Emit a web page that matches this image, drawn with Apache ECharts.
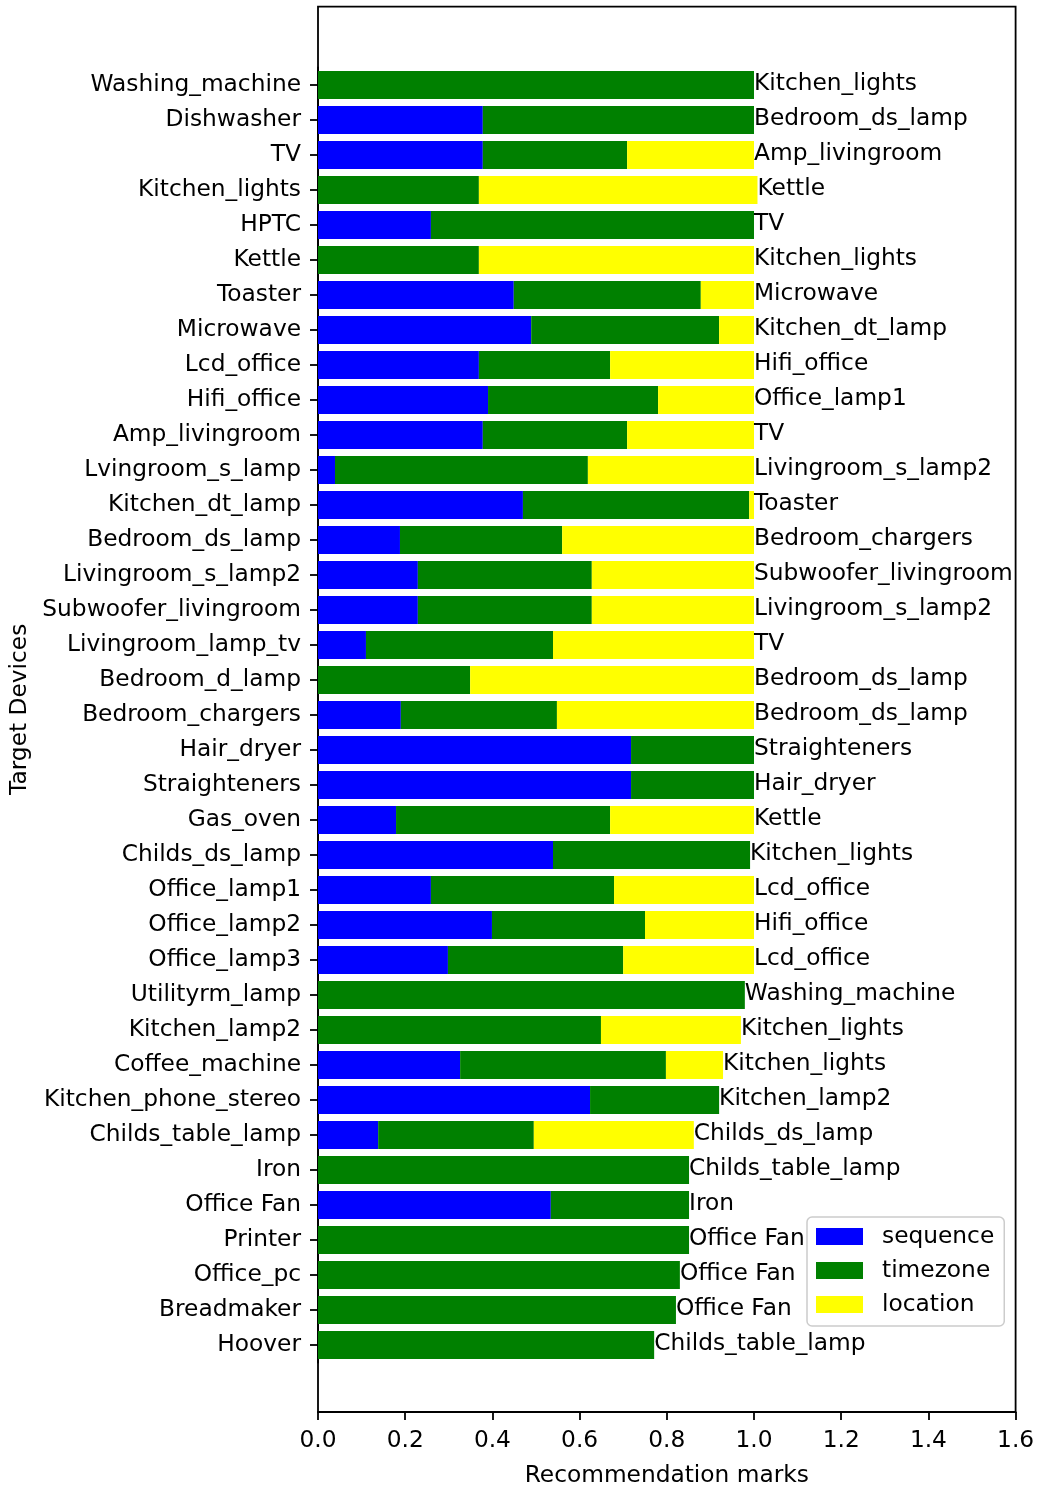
<!DOCTYPE html>
<html>
<head>
<meta charset="utf-8">
<script src="https://cdn.jsdelivr.net/npm/echarts@6/dist/echarts.min.js"></script>
<style>
  html, body { margin: 0; padding: 0; background: #fff; }
  #chart { width: 1038px; height: 1492px; }
</style>
</head>
<body>
<div id="chart"></div>
<script>
// Target devices, listed top to bottom
const devices = [
  'Washing_machine', 'Dishwasher', 'TV', 'Kitchen_lights', 'HPTC', 'Kettle', 'Toaster',
  'Microwave', 'Lcd_office', 'Hifi_office', 'Amp_livingroom', 'Lvingroom_s_lamp',
  'Kitchen_dt_lamp', 'Bedroom_ds_lamp', 'Livingroom_s_lamp2', 'Subwoofer_livingroom',
  'Livingroom_lamp_tv', 'Bedroom_d_lamp', 'Bedroom_chargers', 'Hair_dryer', 'Straighteners',
  'Gas_oven', 'Childs_ds_lamp', 'Office_lamp1', 'Office_lamp2', 'Office_lamp3',
  'Utilityrm_lamp', 'Kitchen_lamp2', 'Coffee_machine', 'Kitchen_phone_stereo',
  'Childs_table_lamp', 'Iron', 'Office Fan', 'Printer', 'Office_pc', 'Breadmaker', 'Hoover'
];

// Recommended device for each target
const recommended = [
  'Kitchen_lights', 'Bedroom_ds_lamp', 'Amp_livingroom', 'Kettle', 'TV', 'Kitchen_lights',
  'Microwave', 'Kitchen_dt_lamp', 'Hifi_office', 'Office_lamp1', 'TV', 'Livingroom_s_lamp2',
  'Toaster', 'Bedroom_chargers', 'Subwoofer_livingroom', 'Livingroom_s_lamp2', 'TV',
  'Bedroom_ds_lamp', 'Bedroom_ds_lamp', 'Straighteners', 'Hair_dryer', 'Kettle',
  'Kitchen_lights', 'Lcd_office', 'Hifi_office', 'Lcd_office', 'Washing_machine',
  'Kitchen_lights', 'Kitchen_lights', 'Kitchen_lamp2', 'Childs_ds_lamp', 'Childs_table_lamp',
  'Iron', 'Office Fan', 'Office Fan', 'Office Fan', 'Childs_table_lamp'
];

// Mark components
const sequenceMarks = [
  0, 0.378, 0.378, 0, 0.259, 0, 0.449,
  0.489, 0.369, 0.390, 0.378, 0.039,
  0.470, 0.188, 0.229, 0.229,
  0.110, 0, 0.190, 0.718, 0.718,
  0.179, 0.539, 0.259, 0.399, 0.298,
  0, 0, 0.326, 0.624,
  0.138, 0, 0.534, 0, 0, 0, 0
];
const timezoneMarks = [
  1.0, 0.622, 0.331, 0.369, 0.741, 0.369, 0.429,
  0.431, 0.301, 0.390, 0.331, 0.580,
  0.519, 0.372, 0.399, 0.399,
  0.429, 0.349, 0.358, 0.282, 0.282,
  0.491, 0.452, 0.420, 0.351, 0.402,
  0.979, 0.649, 0.472, 0.296,
  0.357, 0.851, 0.317, 0.851, 0.830, 0.821, 0.771
];
const locationMarks = [
  0, 0, 0.291, 0.639, 0, 0.631, 0.122,
  0.080, 0.330, 0.220, 0.291, 0.381,
  0.011, 0.440, 0.372, 0.372,
  0.461, 0.651, 0.452, 0, 0,
  0.330, 0, 0.321, 0.250, 0.300,
  0, 0.321, 0.131, 0,
  0.367, 0, 0, 0, 0, 0, 0
];

const xTicks = [0, 0.2, 0.4, 0.6, 0.8, 1.0, 1.2, 1.4, 1.6];

const totals = devices.map((_, i) => sequenceMarks[i] + timezoneMarks[i] + locationMarks[i]);
const endLabels = devices.map((d, i) => ({ value: [totals[i], d], name: recommended[i] }));

const FONT = 'DejaVu Sans';
const FS = 23.3;

const chart = echarts.init(document.getElementById('chart'), null, { renderer: 'canvas' });

const bandPx = 35;
const barsTop = 85 - bandPx / 2;
const plotTop = 6.6;
const plotBottom = 1423.4;

chart.setOption({
  animation: false,
  backgroundColor: '#fff',
  textStyle: { fontFamily: FONT },
  grid: [
    { left: 318, right: 22.4, top: barsTop, height: bandPx * devices.length, containLabel: false },
    { left: 318, right: 22.4, top: plotTop, height: plotBottom - plotTop, containLabel: false,
      show: true, borderColor: '#000', borderWidth: 1.8, backgroundColor: 'transparent' }
  ],
  xAxis: [
    { type: 'value', gridIndex: 0, min: 0, max: 1.6, show: false },
    { type: 'value', gridIndex: 1, min: 0, max: 1.6, interval: 0.2,
      axisLine: { show: true, lineStyle: { color: '#000', width: 1.8 } },
      axisTick: { show: true, length: 8, lineStyle: { color: '#000', width: 1.8 } },
      splitLine: { show: false },
      axisLabel: { color: '#000', fontSize: FS, fontFamily: FONT, margin: 17,
        formatter: v => xTicks.includes(Math.round(v * 10) / 10) ? v.toFixed(1) : '' },
      name: 'Recommendation marks', nameLocation: 'middle', nameGap: 52,
      nameTextStyle: { color: '#000', fontSize: FS, fontFamily: FONT } }
  ],
  yAxis: [
    { type: 'category', gridIndex: 0, data: devices, inverse: true,
      axisLine: { show: true, lineStyle: { color: '#000', width: 1.8 } },
      axisTick: { show: true, alignWithLabel: true, length: 8, lineStyle: { color: '#000', width: 1.8 } },
      axisLabel: { color: '#000', fontSize: FS, fontFamily: FONT, margin: 17, interval: 0,
        padding: [3, 0, 0, 0] } },
    { type: 'value', gridIndex: 1, min: 0, max: 1,
      axisLine: { show: false }, axisTick: { show: false }, axisLabel: { show: false },
      splitLine: { show: false },
      name: 'Target Devices', nameLocation: 'middle', nameGap: 287,
      nameTextStyle: { color: '#000', fontSize: FS, fontFamily: FONT } }
  ],
  legend: {
    data: ['sequence', 'timezone', 'location'],
    orient: 'vertical',
    left: 807, top: 1217,
    itemWidth: 47, itemHeight: 17, itemGap: 11,
    padding: [8, 10, 10, 9],
    backgroundColor: '#fff',
    borderColor: '#cccccc', borderWidth: 1.5, borderRadius: 5,
    icon: 'rect',
    textStyle: { color: '#000', fontSize: FS, fontFamily: FONT, padding: [0, 0, 0, 14] }
  },
  series: [
    { name: 'sequence', type: 'bar', stack: 'marks', xAxisIndex: 0, yAxisIndex: 0,
      data: sequenceMarks, barWidth: 28, itemStyle: { color: '#0000ff' } },
    { name: 'timezone', type: 'bar', stack: 'marks', xAxisIndex: 0, yAxisIndex: 0,
      data: timezoneMarks, barWidth: 28, itemStyle: { color: '#008000' } },
    { name: 'location', type: 'bar', stack: 'marks', xAxisIndex: 0, yAxisIndex: 0,
      data: locationMarks, barWidth: 28, itemStyle: { color: '#ffff00' } },
    { name: 'recommended', type: 'scatter', xAxisIndex: 0, yAxisIndex: 0,
      symbolSize: 0, data: endLabels, silent: true, z: 5,
      itemStyle: { color: '#000', opacity: 1 },
      label: { show: true, position: 'right', distance: 0, color: '#000', opacity: 1,
        textBorderWidth: 0, fontSize: FS, fontFamily: FONT, offset: [0, -1.3],
        formatter: p => p.name } }
  ]
});
</script>
</body>
</html>
